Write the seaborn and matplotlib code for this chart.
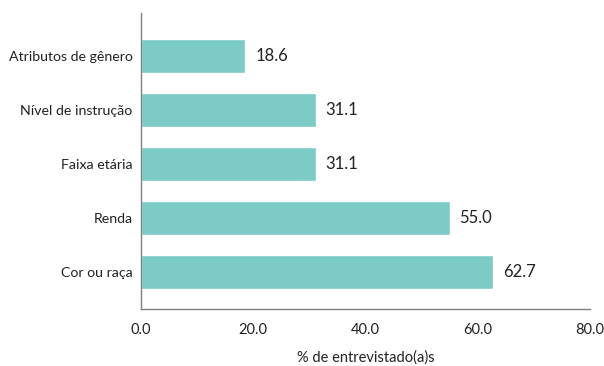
import matplotlib
matplotlib.use("Agg")
import matplotlib.pyplot as plt
import seaborn as sns
import pandas as pd

categories = ["Atributos de gênero", "Nível de instrução", "Faixa etária", "Renda", "Cor ou raça"]
values = [18.6, 31.1, 31.1, 55.0, 62.7]
xticks = [0, 20, 40, 60, 80]
xticklabels = ["0.0", "20.0", "40.0", "60.0", "80.0"]

sns.set_style("white")
plt.rcParams['font.family'] = ['Lato', 'DejaVu Sans']

df = pd.DataFrame({"cat": categories, "val": values})

fig = plt.figure(figsize=(6.04, 3.66), dpi=100)
ax = fig.add_axes([141/604, 1-309/366, (590-141)/604, (309-13)/366])
sns.barplot(data=df, x="val", y="cat", color="#7ccbc6", saturation=1, width=0.63, ax=ax, orient="h")

for i, v in enumerate(values):
    ax.annotate(f"{v:.1f}", xy=(v, i), xytext=(7, 0), textcoords="offset points",
                va="center", ha="left", fontsize=12, color="#222222")

ax.set_xlim(0, 80)
ax.set_ylim(4.685, -0.8)
ax.set_xticks(xticks)
ax.set_xticklabels(xticklabels, fontsize=10.5, color="#222222")
ax.tick_params(axis="x", direction="in", length=5, width=1, color="#808080", pad=10)
ax.tick_params(axis="y", length=0, pad=6, labelsize=10.2, labelcolor="#222222")
ax.set_ylabel("")
ax.set_xlabel("% de entrevistado(a)s", fontsize=10.5, color="#222222", labelpad=10)
for s in ["top", "right"]:
    ax.spines[s].set_visible(False)
for s in ["left", "bottom"]:
    ax.spines[s].set_color("#808080")
    ax.spines[s].set_linewidth(1)

fig.savefig("out.png", dpi=100)
